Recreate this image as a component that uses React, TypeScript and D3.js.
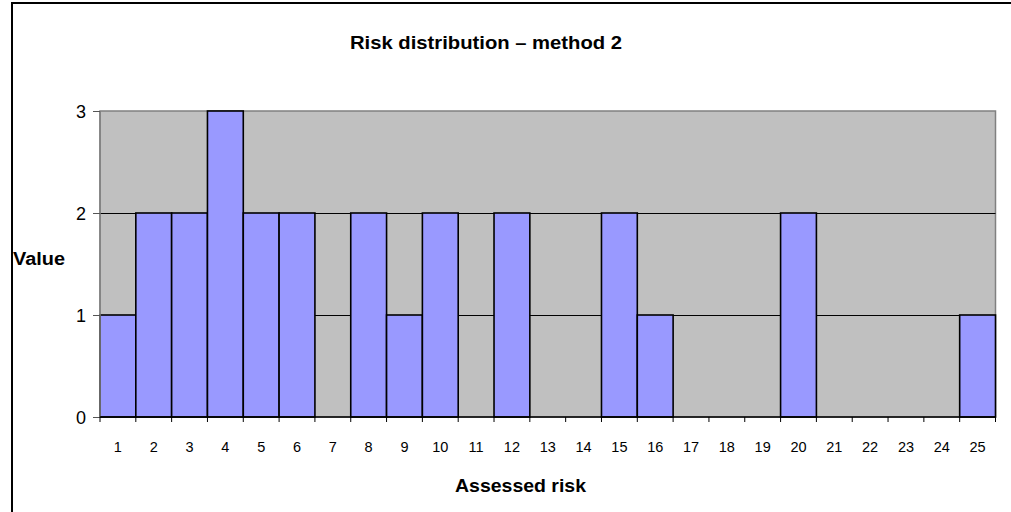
import React from "react";
import * as d3 from "d3";

const categories = [
  "1", "2", "3", "4", "5", "6", "7", "8", "9", "10", "11", "12", "13",
  "14", "15", "16", "17", "18", "19", "20", "21", "22", "23", "24", "25",
];
const values = [1, 2, 2, 3, 2, 2, 0, 2, 1, 2, 0, 2, 0, 0, 2, 1, 0, 0, 0, 2, 0, 0, 0, 0, 1];
const yTicks = [0, 1, 2, 3];
const title = "Risk distribution – method 2";
const xTitle = "Assessed risk";
const yTitle = "Value";

const W = 1011;
const H = 512;
const plot = { left: 100, right: 995.5, top: 111, bottom: 417 };
const FONT = "'Liberation Sans', Arial, sans-serif";

export default function App() {
  const x = d3
    .scaleBand<string>()
    .domain(categories)
    .range([plot.left, plot.right])
    .padding(0);
  const y = d3.scaleLinear().domain([0, 3]).range([plot.bottom, plot.top]);

  const data = categories.map((c, i) => ({ c, v: values[i] }));
  const bw = x.bandwidth();

  return (
    <svg
      width={W}
      height={H}
      style={{ position: "absolute", left: 0, top: 0, background: "#fff" }}
    >
      {/* chart frame */}
      <rect x={12} y={3} width={W + 20} height={H + 20} fill="#fff" stroke="#000" strokeWidth={2} />

      {/* plot background */}
      <rect
        x={plot.left}
        y={plot.top}
        width={plot.right - plot.left}
        height={plot.bottom - plot.top}
        fill="#C0C0C0"
        stroke="#808080"
        strokeWidth={1.5}
      />

      {/* horizontal gridlines, nudged half a pixel so they stay crisp */}
      {yTicks.filter((t) => t > 0 && t < 3).map((t) => (
        <line
          key={t}
          x1={plot.left}
          x2={plot.right}
          y1={Math.round(y(t)) + 0.5}
          y2={Math.round(y(t)) + 0.5}
          stroke="#000"
          strokeWidth={1}
        />
      ))}

      {/* bars */}
      {data.filter((d) => d.v > 0).map((d) => (
        <rect
          key={d.c}
          x={x(d.c)}
          y={y(d.v)}
          width={bw}
          height={y(0) - y(d.v)}
          fill="#9999FF"
          stroke="#000"
          strokeWidth={1.6}
        />
      ))}

      {/* y axis */}
      <line x1={plot.left} x2={plot.left} y1={plot.top} y2={plot.bottom} stroke="#808080" strokeWidth={1.5} />
      {yTicks.map((t) => (
        <g key={t}>
          <line
            x1={plot.left - 7}
            x2={plot.left}
            y1={Math.round(y(t)) + 0.5}
            y2={Math.round(y(t)) + 0.5}
            stroke="#555"
            strokeWidth={1}
          />
          <text
            x={86}
            y={y(t) + 6.5}
            textAnchor="end"
            fontFamily={FONT}
            fontSize={18}
            fill="#000"
          >
            {t}
          </text>
        </g>
      ))}

      {/* x axis */}
      <line x1={plot.left} x2={plot.right} y1={plot.bottom} y2={plot.bottom} stroke="#000" strokeWidth={1.5} />
      {categories.map((c) => (
        <line
          key={"t" + c}
          x1={x(c)!}
          x2={x(c)!}
          y1={plot.bottom}
          y2={plot.bottom + 5}
          stroke="#000"
          strokeWidth={1}
        />
      ))}
      <line x1={plot.right} x2={plot.right} y1={plot.bottom} y2={plot.bottom + 5} stroke="#000" strokeWidth={1} />
      {categories.map((c) => (
        <text
          key={"l" + c}
          x={x(c)! + bw / 2}
          y={451.5}
          textAnchor="middle"
          fontFamily={FONT}
          fontSize={14.5}
          fill="#000"
        >
          {c}
        </text>
      ))}

      {/* titles */}
      <text
        x={486}
        y={48.5}
        textAnchor="middle"
        fontFamily={FONT}
        fontSize={18}
        fontWeight="bold"
        fill="#000"
        textLength={272}
        lengthAdjust="spacingAndGlyphs"
      >
        {title}
      </text>
      <text
        x={520.5}
        y={492}
        textAnchor="middle"
        fontFamily={FONT}
        fontSize={18.5}
        fontWeight="bold"
        fill="#000"
        textLength={131}
        lengthAdjust="spacingAndGlyphs"
      >
        {xTitle}
      </text>
      <text
        x={13}
        y={265}
        textAnchor="start"
        fontFamily={FONT}
        fontSize={18}
        fontWeight="bold"
        fill="#000"
        textLength={52}
        lengthAdjust="spacingAndGlyphs"
      >
        {yTitle}
      </text>
    </svg>
  );
}
